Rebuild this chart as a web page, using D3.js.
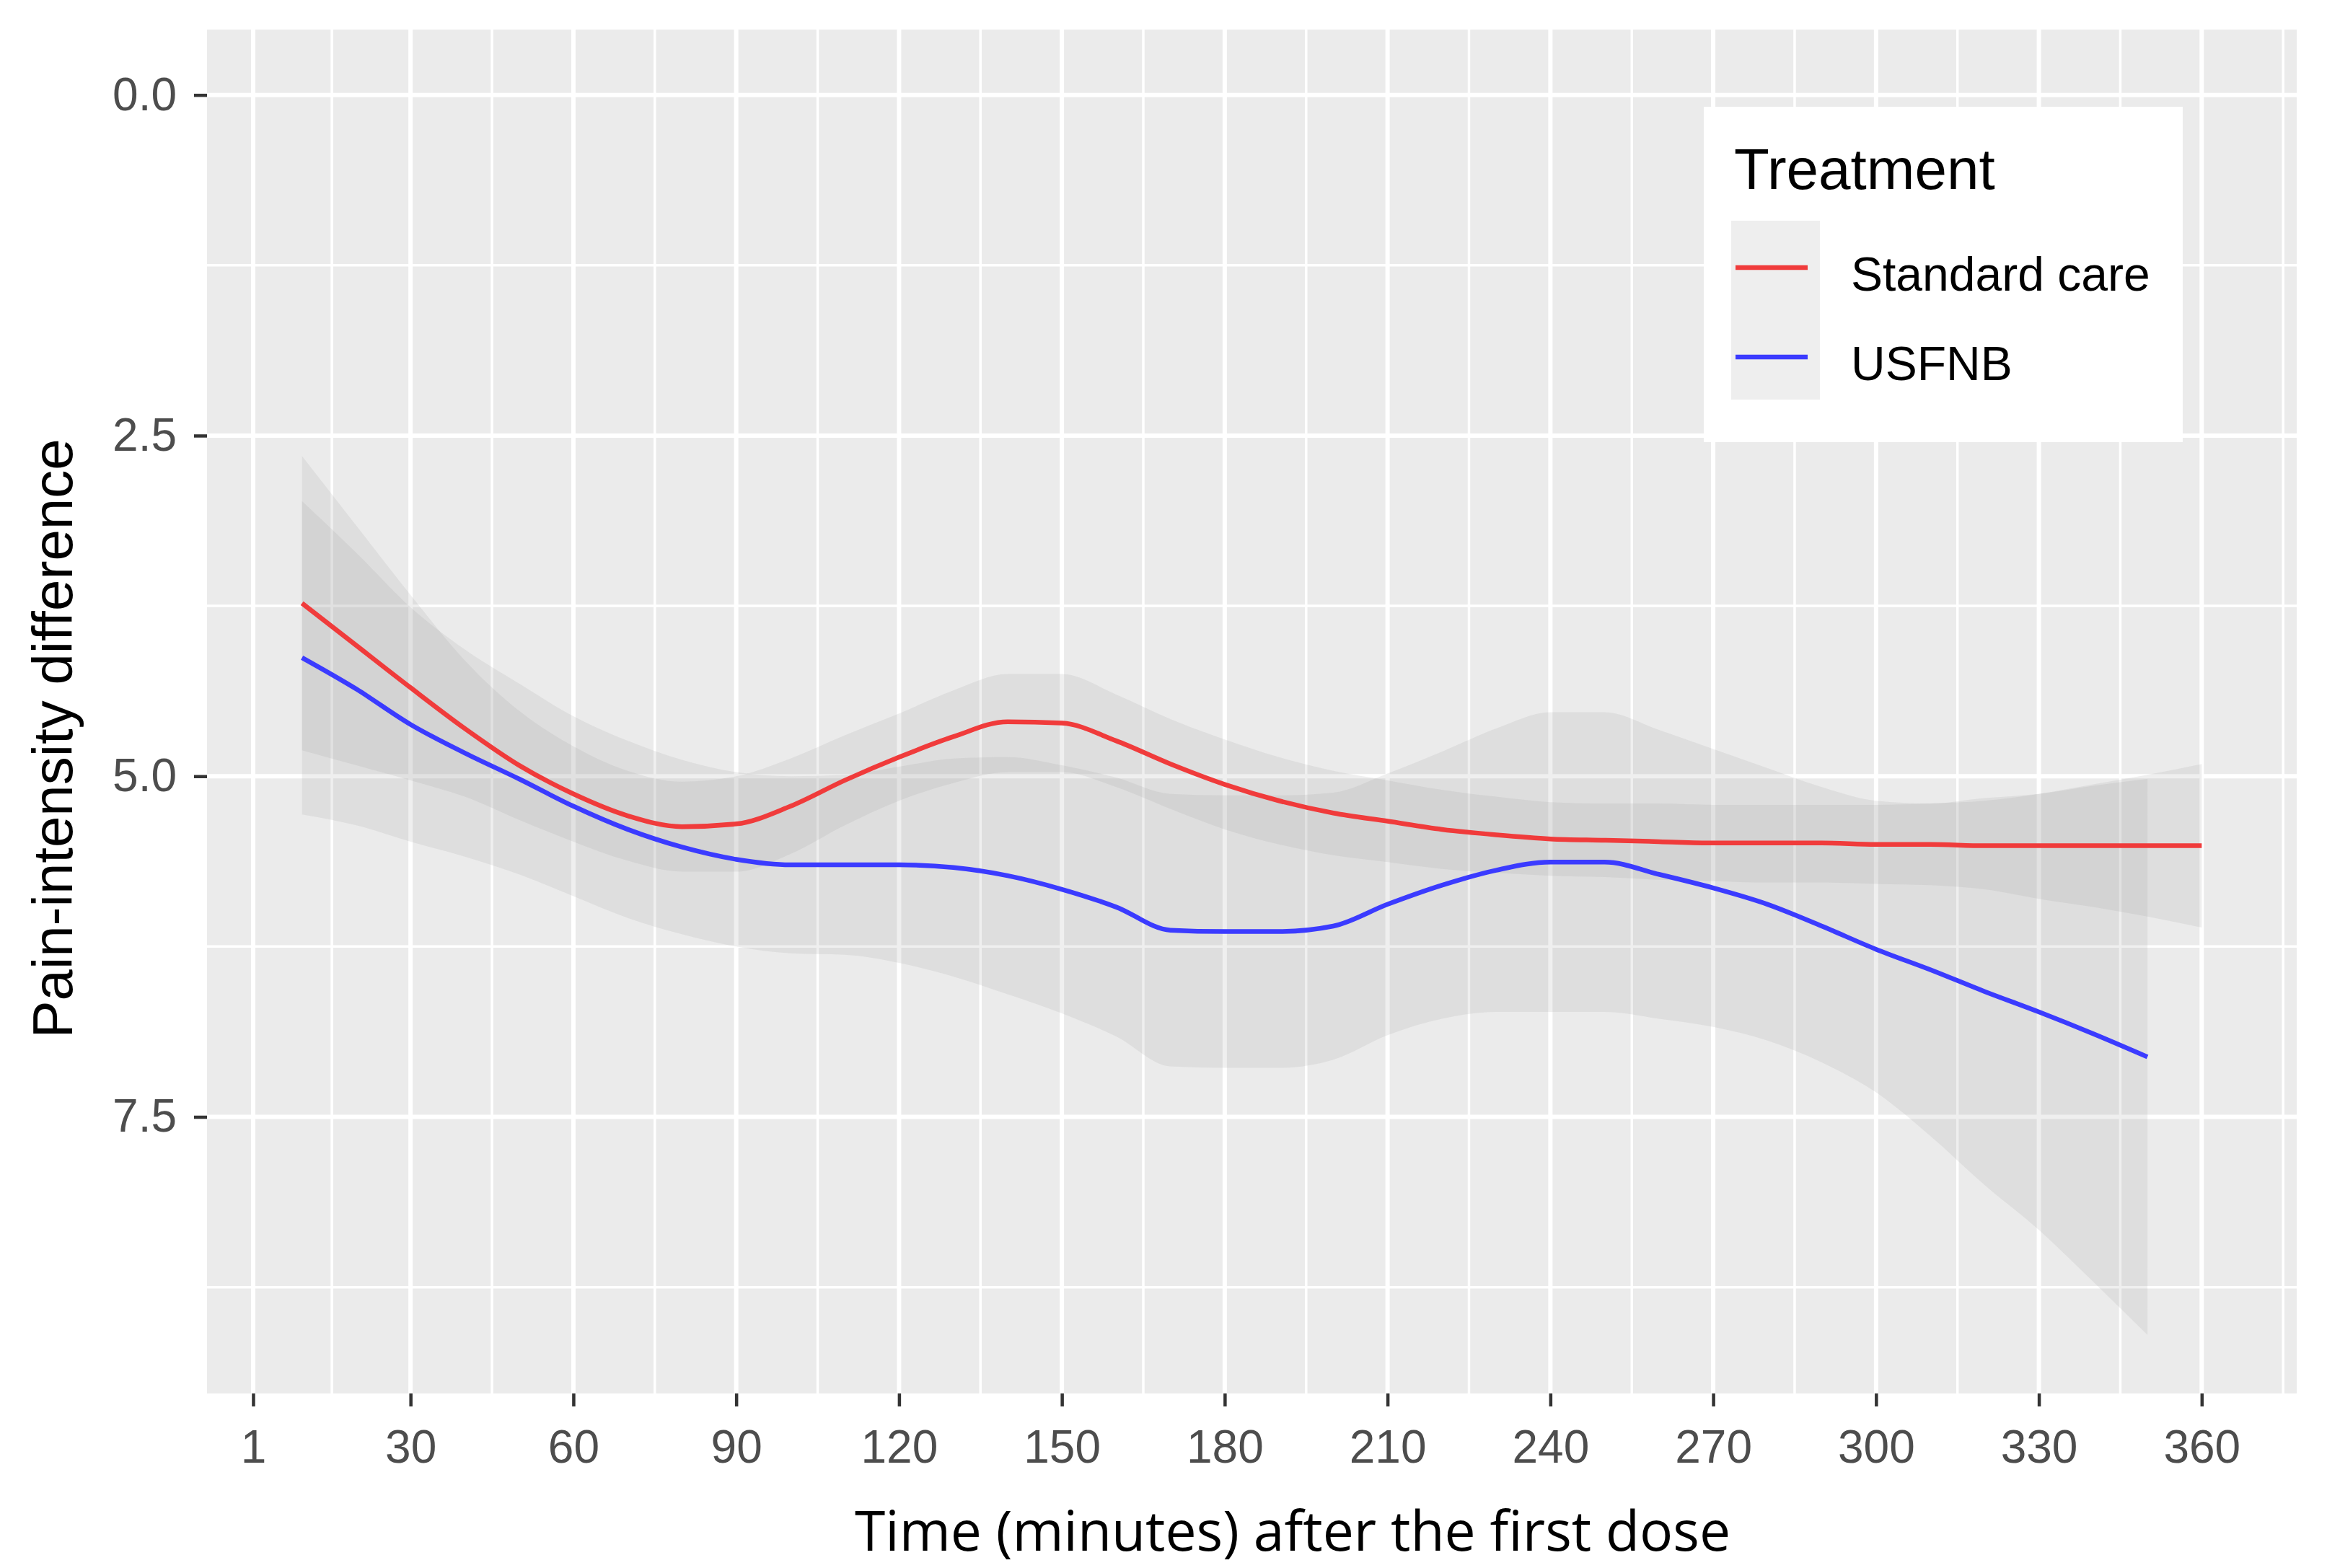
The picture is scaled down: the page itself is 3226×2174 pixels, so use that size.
<!DOCTYPE html>
<html>
<head>
<meta charset="utf-8">
<script src="https://cdnjs.cloudflare.com/ajax/libs/d3/7.8.5/d3.min.js"></script>
<style>
  body { margin: 0; background: #ffffff; }
</style>
</head>
<body>
<div id="chart"></div>
<script>

// ################## data ##################
var careTime = [10, 20, 30, 40, 50, 60, 70, 80, 90, 100, 110, 120, 130, 140, 150, 160, 170, 180,
  190, 200, 210, 220, 230, 240, 250, 260, 270, 280, 290, 300, 310, 320, 330, 340, 350, 360];
var careFit = [3.73, 4.04, 4.35, 4.65, 4.92, 5.13, 5.29, 5.37, 5.35, 5.22, 5.03, 4.86, 4.71, 4.60, 4.61, 4.74, 4.91, 5.06,
  5.18, 5.27, 5.33, 5.39, 5.43, 5.46, 5.47, 5.48, 5.49, 5.49, 5.49, 5.50, 5.50, 5.51, 5.51, 5.51, 5.51, 5.51];
var careLo = [2.65, 3.16, 3.67, 4.15, 4.52, 4.78, 4.96, 5.04, 5.00, 4.87, 4.70, 4.54, 4.37, 4.25, 4.25, 4.40, 4.58, 4.73,
  4.86, 4.96, 5.03, 5.10, 5.15, 5.19, 5.20, 5.20, 5.21, 5.21, 5.21, 5.21, 5.20, 5.18, 5.13, 5.06, 4.99, 4.91];
var careHi = [4.81, 4.92, 5.03, 5.15, 5.32, 5.48, 5.62, 5.70, 5.70, 5.57, 5.36, 5.18, 5.05, 4.97, 4.97, 5.08, 5.24, 5.39,
  5.50, 5.58, 5.63, 5.68, 5.71, 5.73, 5.74, 5.76, 5.77, 5.78, 5.78, 5.79, 5.80, 5.83, 5.90, 5.96, 6.03, 6.11];

var usfnbTime = [10, 20, 30, 40, 50, 60, 70, 80, 90, 100, 110, 120, 130, 140, 150, 160, 170, 180,
  190, 200, 210, 220, 230, 240, 250, 260, 270, 280, 290, 300, 310, 320, 330, 340, 350];
var usfnbFit = [4.13, 4.36, 4.62, 4.83, 5.02, 5.22, 5.39, 5.52, 5.61, 5.65, 5.65, 5.65, 5.67, 5.73, 5.83, 5.96, 6.13, 6.14,
  6.14, 6.10, 5.94, 5.80, 5.69, 5.63, 5.63, 5.72, 5.82, 5.94, 6.10, 6.27, 6.42, 6.58, 6.73, 6.89, 7.06];
var usfnbLo = [2.98, 3.36, 3.76, 4.07, 4.32, 4.56, 4.74, 4.88, 4.97, 5.00, 4.99, 4.93, 4.87, 4.86, 4.92, 5.01, 5.13, 5.14,
  5.14, 5.12, 4.98, 4.82, 4.65, 4.53, 4.53, 4.66, 4.80, 4.94, 5.08, 5.18, 5.20, 5.16, 5.13, 5.07, 5.02];
var usfnbHi = [5.28, 5.36, 5.48, 5.59, 5.72, 5.88, 6.04, 6.16, 6.25, 6.30, 6.31, 6.37, 6.47, 6.60, 6.74, 6.91, 7.13, 7.14,
  7.14, 7.08, 6.90, 6.78, 6.73, 6.73, 6.73, 6.78, 6.84, 6.94, 7.10, 7.32, 7.64, 8.00, 8.33, 8.71, 9.10];

var groupNames = ['Standard care', 'USFNB'];
var groupColors = ['#F03B3B', '#3B3BFF'];

var xTicks = [1, 30, 60, 90, 120, 150, 180, 210, 240, 270, 300, 330, 360];
var xMinor = [15.5, 45, 75, 105, 135, 165, 195, 225, 255, 285, 315, 345, 375];
var yTicks = [0, 2.5, 5, 7.5];
var yMinor = [1.25, 3.75, 6.25, 8.75];

// exposed variables
var attrs = {
  svgWidth: 3226,
  svgHeight: 2174,
  panelLeft: 287,
  panelRight: 3184,
  panelTop: 41,
  panelBottom: 1932,
  tickFont: 64,
  titleFont: 80,
  font: '"Liberation Sans", Arial, sans-serif'
};

// build one record list per group
function rows(t, fit, lo, hi) {
  return t.map(function (d, i) { return { t: d, fit: fit[i], lo: lo[i], hi: hi[i] }; });
}
var groups = [
  rows(careTime, careFit, careLo, careHi),
  rows(usfnbTime, usfnbFit, usfnbLo, usfnbHi)
];

// ###################  scales ##################
var scales = {};
scales.x = d3.scaleLinear().domain([-7.5, 377.5]).range([attrs.panelLeft, attrs.panelRight]);
scales.y = d3.scaleLinear().domain([-0.48, 9.53]).range([attrs.panelTop, attrs.panelBottom]);

var svg = d3.select('#chart').append('svg')
  .attr('width', attrs.svgWidth)
  .attr('height', attrs.svgHeight)
  .style('font-family', attrs.font);

svg.append('rect')
  .attr('width', attrs.svgWidth).attr('height', attrs.svgHeight)
  .attr('fill', '#ffffff');

// panel background
svg.append('rect')
  .attr('x', attrs.panelLeft).attr('y', attrs.panelTop)
  .attr('width', attrs.panelRight - attrs.panelLeft)
  .attr('height', attrs.panelBottom - attrs.panelTop)
  .attr('fill', '#EBEBEB');

// ################## grid ###################
var grid = svg.append('g').attr('class', 'grid').attr('stroke', '#ffffff');

grid.selectAll('.x-minor').data(xMinor).enter().append('line')
  .attr('x1', scales.x).attr('x2', scales.x)
  .attr('y1', attrs.panelTop).attr('y2', attrs.panelBottom)
  .attr('stroke-width', 3.5);
grid.selectAll('.y-minor').data(yMinor).enter().append('line')
  .attr('y1', scales.y).attr('y2', scales.y)
  .attr('x1', attrs.panelLeft).attr('x2', attrs.panelRight)
  .attr('stroke-width', 3.5);
grid.selectAll('.x-major').data(xTicks).enter().append('line')
  .attr('x1', scales.x).attr('x2', scales.x)
  .attr('y1', attrs.panelTop).attr('y2', attrs.panelBottom)
  .attr('stroke-width', 6);
grid.selectAll('.y-major').data(yTicks).enter().append('line')
  .attr('y1', scales.y).attr('y2', scales.y)
  .attr('x1', attrs.panelLeft).attr('x2', attrs.panelRight)
  .attr('stroke-width', 6);

// ################## layout ###################
var layouts = {};
layouts.ribbon = d3.area()
  .x(function (d) { return scales.x(d.t); })
  .y0(function (d) { return scales.y(d.lo); })
  .y1(function (d) { return scales.y(d.hi); })
  .curve(d3.curveMonotoneX);
layouts.line = d3.line()
  .x(function (d) { return scales.x(d.t); })
  .y(function (d) { return scales.y(d.fit); })
  .curve(d3.curveMonotoneX);

var chart = svg.append('g').attr('class', 'chart');

chart.selectAll('.ribbon').data(groups).enter().append('path')
  .attr('class', 'ribbon')
  .attr('d', layouts.ribbon)
  .attr('fill', '#999999')
  .attr('fill-opacity', 0.16);

chart.selectAll('.fit').data(groups).enter().append('path')
  .attr('class', 'fit')
  .attr('d', layouts.line)
  .attr('fill', 'none')
  .attr('stroke', function (d, i) { return groupColors[i]; })
  .attr('stroke-width', 6.5);

// #################### axes ###################
var axes = {};
axes.bottom = d3.axisBottom(scales.x).tickValues(xTicks).tickSize(18).tickPadding(33)
  .tickFormat(d3.format('d'));
axes.left = d3.axisLeft(scales.y).tickValues(yTicks).tickSize(18).tickPadding(24)
  .tickFormat(d3.format('.1f'));

var bottomAxisWrapper = svg.append('g')
  .attr('transform', 'translate(0,' + attrs.panelBottom + ')')
  .call(axes.bottom);
var leftAxisWrapper = svg.append('g')
  .attr('transform', 'translate(' + attrs.panelLeft + ',0)')
  .call(axes.left);

[bottomAxisWrapper, leftAxisWrapper].forEach(function (g) {
  g.select('.domain').remove();
  g.selectAll('.tick line').attr('stroke', '#333333').attr('stroke-width', 4.5);
  g.selectAll('.tick text')
    .attr('fill', '#4D4D4D')
    .style('font-size', attrs.tickFont + 'px')
    .style('font-family', attrs.font);
});

// axis titles
svg.append('text')
  .attr('x', 1792).attr('y', 2150)
  .attr('text-anchor', 'middle')
  .attr('textLength', 1214)
  .attr('lengthAdjust', 'spacingAndGlyphs')
  .style('font-family', '"Open Sans", "Noto Sans", sans-serif')
  .style('font-size', '76px')
  .attr('fill', '#000000')
  .text('Time (minutes) after the first dose');

svg.append('text')
  .attr('transform', 'translate(100,1024) rotate(-90)')
  .attr('text-anchor', 'middle')
  .style('font-size', '78px')
  .attr('fill', '#000000')
  .text('Pain-intensity difference');

// #################### legend ###################
var legend = svg.append('g').attr('class', 'legend');
legend.append('rect')
  .attr('x', 2362).attr('y', 148)
  .attr('width', 664).attr('height', 465)
  .attr('fill', '#ffffff');
legend.append('text')
  .attr('x', 2404).attr('y', 262)
  .style('font-size', attrs.titleFont + 'px')
  .attr('fill', '#000000')
  .text('Treatment');

var keys = legend.selectAll('.key').data(groupNames).enter().append('g')
  .attr('class', 'key')
  .attr('transform', function (d, i) { return 'translate(2400,' + (306 + i * 124) + ')'; });
keys.append('rect')
  .attr('width', 123).attr('height', 124)
  .attr('fill', '#EEEEEE');
keys.append('line')
  .attr('x1', 6).attr('x2', 106)
  .attr('y1', 65).attr('y2', 65)
  .attr('stroke', function (d, i) { return groupColors[i]; })
  .attr('stroke-width', 6.5);
keys.append('text')
  .attr('x', 166).attr('y', 97)
  .style('font-size', '66px')
  .attr('fill', '#000000')
  .text(function (d) { return d; });

</script>
</body>
</html>
